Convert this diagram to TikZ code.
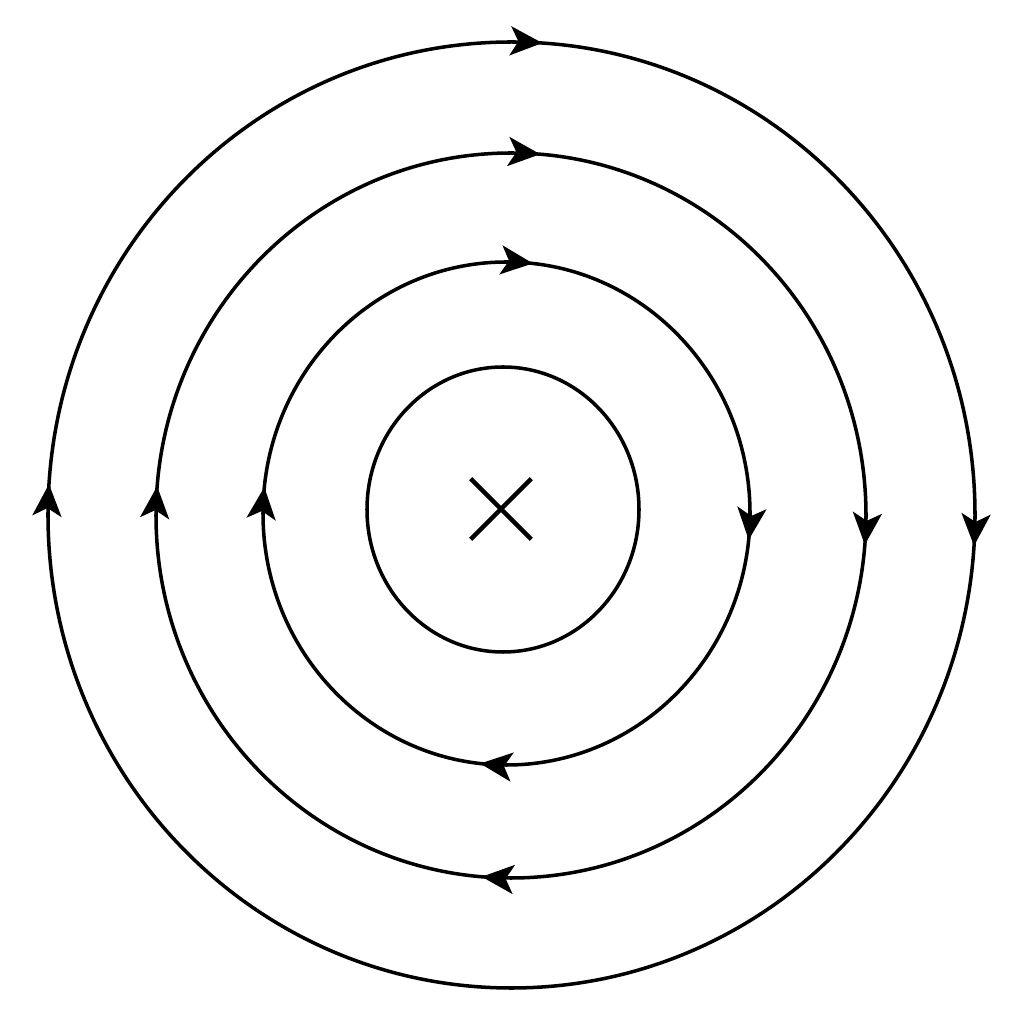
\documentclass[tikz,border=0pt]{standalone}
\usetikzlibrary{arrows.meta,decorations.markings,shapes.misc}

\tikzset{
    fieldtip/.tip={Stealth[length=0.32cm,width=0.29cm,inset=0.08cm]},
    fieldline/.style={line width=1pt},
    tipmark/.style={postaction={decorate,
        decoration={markings,mark=at position #1 with {\arrow{fieldtip}}}}},
}

\begin{document}
\begin{tikzpicture}[x=0.01cm,y=0.01cm]
        \useasboundingbox (0,0) rectangle (1024,1024);

        % source
        \node [draw, cross out,
            line width=1.3pt,
            minimum size=0.56cm,
            inner sep=0pt,
        ] (src) at (501,515) {};

        % centres
        \coordinate (c1) at (503,514.5);
        \coordinate (c2) at (506.5,510.5);
        \coordinate (c3) at (511,508.5);
        \coordinate (c4) at (511.5,509);

        % inner ring
        \draw[fieldline] (c1) ++(136,0)
            arc[start angle=0,end angle=-360,x radius=136,y radius=142.5];

        % second ring
        \draw[fieldline,tipmark=0.017,tipmark=0.267,tipmark=0.517,tipmark=0.767]
            (c2) ++(243.5,0)
            arc[start angle=0,end angle=-360,x radius=243.5,y radius=251.5];

        % third ring
        \draw[fieldline,tipmark=0.013,tipmark=0.263,tipmark=0.513,tipmark=0.763]
            (c3) ++(355,0)
            arc[start angle=0,end angle=-360,x radius=355,y radius=362.5];

        % outer ring
        \draw[fieldline,tipmark=0.0105,tipmark=0.5105,tipmark=0.7605]
            (c4) ++(463.5,0)
            arc[start angle=0,end angle=-360,x radius=463.5,y radius=473];
\end{tikzpicture}
\end{document}
